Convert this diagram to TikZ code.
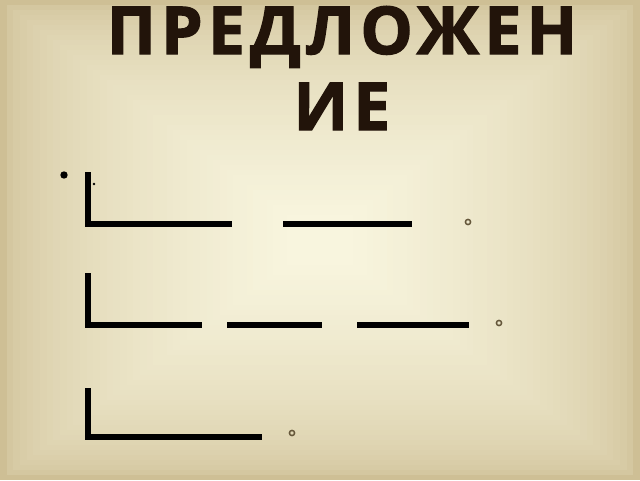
\documentclass[tikz,border=0pt]{standalone}
\usepackage{fontspec}
\setmainfont{Open Sans}
\newfontfamily\headfont[LetterSpace=8,FakeBold=2]{Open Sans}
\usepackage{tikz}
\usetikzlibrary{positioning}

\definecolor{bgin}{RGB}{248,245,222}
\definecolor{bgout}{RGB}{206,191,149}
\definecolor{ink}{RGB}{34,20,10}
\definecolor{ringcol}{RGB}{100,86,58}

\begin{document}
\begin{tikzpicture}[x=1pt, y=-1pt,
  title/.style={font=\headfont\fontsize{66}{76}\selectfont\bfseries, text=ink, inner sep=0pt, anchor=base},
  bar/.style={line width=5.6pt, line cap=butt, draw=black},
  ring/.style={draw=ringcol, line width=1.5pt, fill=none}]
  % Slide background: rectangles shrinking towards the middle
  \foreach \i in {0,...,48} {
    \pgfmathsetmacro{\t}{\i/48*0.5}
    \pgfmathsetmacro{\p}{min(100,100*sqrt(\t/0.45))}
    \fill[bgin!\p!bgout] (640*\t,480*\t) rectangle (640-640*\t,480-480*\t);
  }
  \useasboundingbox (0,0) rectangle (640,480);

  % Title, split over two lines
  \node[title] (headA) at (342,54) {ПРЕДЛОЖЕН};
  \node[title] (headB) at (342,130) {ИЕ};

  % Bullet and tiny dot
  \fill[black] (64,175) circle (3.7);
  \fill[black] (94,184) circle (1.4);

  % First scheme: |____  ____ .
  \draw[bar] (88,172) -- (88,224) -- (232,224);
  \draw[bar] (283,224) -- (412,224);
  \draw[ring] (468,222) circle (2.6);

  % Second scheme: |___ ___ ___ .
  \draw[bar] (88,273) -- (88,325) -- (202,325);
  \draw[bar] (227,325) -- (322,325);
  \draw[bar] (357,325) -- (469,325);
  \draw[ring] (499,323) circle (2.6);

  % Third scheme: |______ .
  \draw[bar] (88,388) -- (88,437) -- (262,437);
  \draw[ring] (292,433) circle (2.6);
\end{tikzpicture}
\end{document}
